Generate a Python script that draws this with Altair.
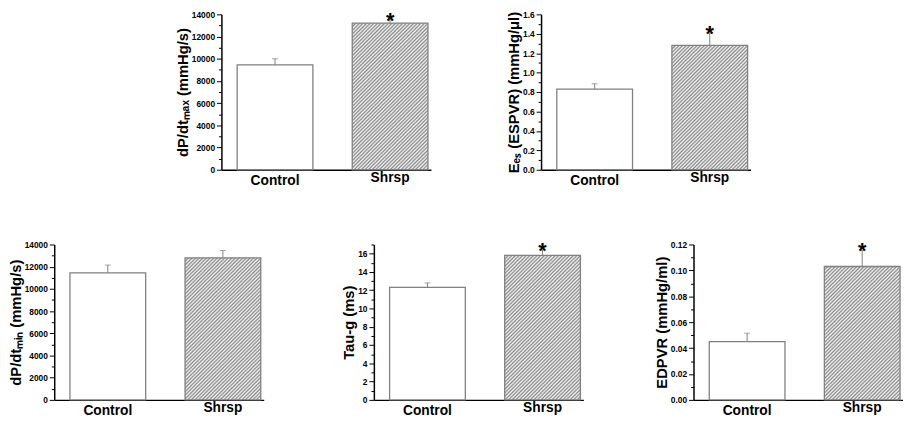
import math
import altair as alt
import pandas as pd

# ---------------- data ----------------
groups = ["Control", "Shrsp"]

dpdt_max_mean = [9450, 13200]
dpdt_max_err = [550, 320]

ees_mean = [0.83, 1.28]
ees_err = [0.055, 0.13]

dpdt_min_mean = [11450, 12800]
dpdt_min_err = [700, 660]

tau_mean = [12.3, 15.8]
tau_err = [0.5, 0.63]

edpvr_mean = [0.045, 0.103]
edpvr_err = [0.0065, 0.0125]
# ---------------------------------------------------------------

FONT = "Liberation Sans"
PW, PH = 213, 158          # plot area of each panel
BAR_W = 77                 # band width resulting from the scale padding below
EDGE = "#808080"
HATCH = "#8a8a8a"


def hatch_fill(w, h, period=2.6):
    """Fine diagonal '/' stripes made with a repeating linear gradient."""
    k = (w + h) / (w * w + h * h)
    dt = period * math.sqrt(2) / (w + h)
    stops = []
    t = 0.0
    while t < 1.0:
        stops.append({"offset": round(min(t, 1.0), 5), "color": HATCH})
        stops.append({"offset": round(min(t + dt * 0.5, 1.0), 5), "color": "#f4f4f4"})
        t += dt
    stops.append({"offset": 1.0, "color": HATCH})
    return {"gradient": "linear", "x1": 0, "y1": 0,
            "x2": w * k, "y2": h * k, "stops": stops}


def panel(title, mean, err, ymax, major, minor, fmt, sig):
    df = pd.DataFrame({
        "group": groups,
        "mean": mean,
        "top": [m + e for m, e in zip(mean, err)],
    })
    n = int(round(ymax / minor))
    ticks = [round(i * minor, 6) for i in range(n + 1)]
    is_major = f"abs(datum.value/{major} - round(datum.value/{major})) < 1e-6"

    xs = alt.Scale(domain=groups, paddingInner=0.342, paddingOuter=0.0812, align=0.842)
    xaxis = alt.Axis(title=None, labelAngle=0, ticks=False, domainColor="black",
                     domainWidth=1.5, labelFontSize=14, labelFontWeight="bold",
                     labelColor="black",
                     labelPadding={"condition": {"test": "datum.value === 'Shrsp'", "value": 1},
                                   "value": 4},
                     labelFont=FONT)
    x = alt.X("group:N", scale=xs, axis=xaxis)
    ys = alt.Scale(domain=[0, ymax], nice=False, zero=True)
    yaxis = alt.Axis(
        title=title, values=ticks, format=fmt,
        labelExpr=f"{is_major} ? datum.label : ''",
        tickSize={"condition": {"test": is_major, "value": 5}, "value": 3},
        tickColor="black", tickWidth=1, domainColor="black", domainWidth=1.5,
        labelFontSize=8.5, labelFontWeight="bold", labelColor="black",
        labelPadding=2, labelOverlap=False, labelFont=FONT,
        titleFontSize=15, titleFontWeight="bold", titleColor="black",
        titlePadding=1, titleFont=FONT, grid=False,
    )

    base = alt.Chart(df)
    h_px = mean[1] / ymax * PH
    ctrl = base.transform_filter(alt.datum.group == "Control").mark_bar(
        fill="white", stroke=EDGE, strokeWidth=1.3
    ).encode(x=x, y=alt.Y("mean:Q", scale=ys, axis=yaxis))
    shr = base.transform_filter(alt.datum.group == "Shrsp").mark_bar(
        fill=hatch_fill(BAR_W, h_px), stroke=EDGE, strokeWidth=1.3
    ).encode(x=x, y=alt.Y("mean:Q", scale=ys, axis=yaxis))
    rule = base.mark_rule(color=EDGE, strokeWidth=1).encode(
        x=x, y=alt.Y("mean:Q", scale=ys, axis=yaxis), y2="top:Q")
    cap = base.mark_tick(color=EDGE, size=6, thickness=1).encode(
        x=x, y=alt.Y("top:Q", scale=ys, axis=yaxis))
    layers = [ctrl, shr, rule, cap]
    if sig:
        star = base.transform_filter(alt.datum.group == "Shrsp").mark_text(
            text="*", font=FONT, fontSize=22, fontWeight="bold", color="black",
            baseline="alphabetic", dy=8
        ).encode(x=x, y=alt.Y("top:Q", scale=ys, axis=yaxis))
        layers.append(star)
    return alt.layer(*layers).properties(width=PW, height=PH)


p1 = panel("dP/dtₘₐₓ (mmHg/s)", dpdt_max_mean, dpdt_max_err, 14000, 2000, 1000, "d", True)
p2 = panel("Eₑₛ (ESPVR) (mmHg/μl)", ees_mean, ees_err, 1.6, 0.2, 0.1, ".1f", True)
p3 = panel("dP/dtₘᵢₙ (mmHg/s)", dpdt_min_mean, dpdt_min_err, 14000, 2000, 1000, "d", False)
p4 = panel("Tau-g (ms)", tau_mean, tau_err, 17, 2, 1, "d", True)
p5 = panel("EDPVR (mmHg/ml)", edpvr_mean, edpvr_err, 0.12, 0.02, 0.01, ".2f", True)

spacer = alt.Chart(pd.DataFrame({"a": [0]})).mark_rule(opacity=0).encode(
    x=alt.value(1), y=alt.value(80), y2=alt.value(80)).properties(width=58, height=PH)

top = alt.hconcat(spacer, p1, p2, spacing=112, bounds="flush")
bottom = alt.hconcat(p3, p4, p5, spacing=112, bounds="flush")

chart = alt.vconcat(top, bottom, spacing=53).properties(
    padding={"left": 0, "top": -2, "right": 0, "bottom": 0}
).configure(font=FONT).configure_view(stroke=None)

chart.save("out.html", embed_options={"renderer": "svg", "actions": False})
